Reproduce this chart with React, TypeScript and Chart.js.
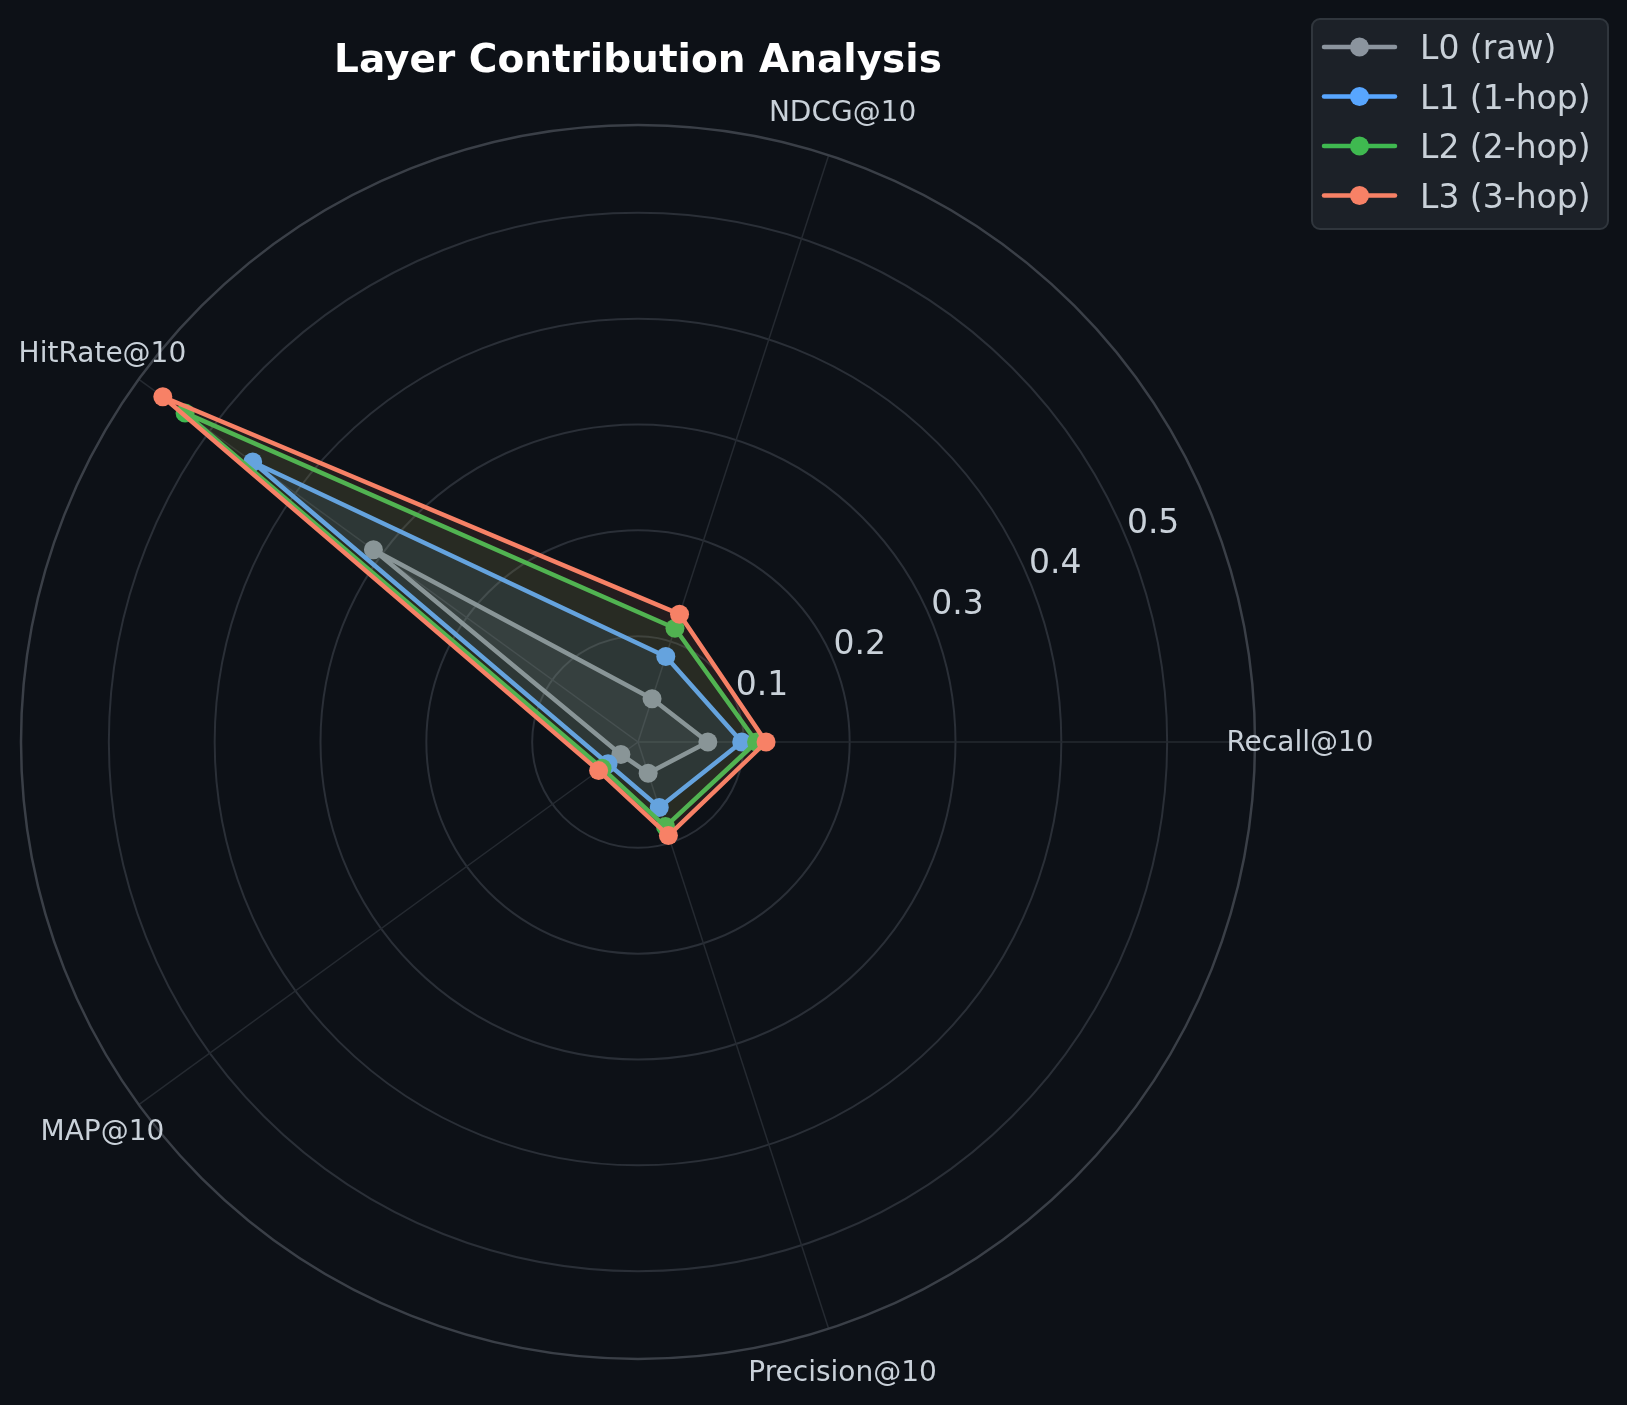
import { useEffect, useRef } from 'react';
import Chart from 'chart.js/auto';

// metrics in clockwise order starting at 3 o'clock (Chart.js draws clockwise)
const metrics = ['Recall@10', 'Precision@10', 'MAP@10', 'HitRate@10', 'NDCG@10'];
const layerNames = ['L0 (raw)', 'L1 (1-hop)', 'L2 (2-hop)', 'L3 (3-hop)'];
const layerColors = ['#8b949e', '#58a6ff', '#3fb950', '#f78166'];

// scores, same order as metrics
const l0Scores = [0.066, 0.031, 0.020, 0.309, 0.043];
const l1Scores = [0.098, 0.065, 0.035, 0.450, 0.085];
const l2Scores = [0.112, 0.084, 0.042, 0.529, 0.113];
const l3Scores = [0.121, 0.093, 0.046, 0.555, 0.127];

const radialTicks = [0.1, 0.2, 0.3, 0.4, 0.5];
const rMax = 0.583;

const BG = '#0d1117';
const TEXT = '#c9d1d9';
const FONT = '"DejaVu Sans", sans-serif';

const withAlpha = (hex: string, a: number) => {
  const n = parseInt(hex.slice(1), 16);
  return `rgba(${(n >> 16) & 255}, ${(n >> 8) & 255}, ${n & 255}, ${a})`;
};

const decorPlugin = {
  id: 'decor',
  beforeDraw(chart: any) {
    const ctx = chart.ctx;
    ctx.save();
    ctx.fillStyle = BG;
    ctx.fillRect(0, 0, chart.width, chart.height);
    ctx.restore();
  },
  beforeDatasetsDraw(chart: any) {
    const scale = chart.scales.r;
    const ctx = chart.ctx;
    ctx.save();
    ctx.strokeStyle = '#3a3f47';
    ctx.lineWidth = 2.5;
    ctx.beginPath();
    ctx.arc(scale.xCenter, scale.yCenter, scale.getDistanceFromCenterForValue(rMax), 0, Math.PI * 2);
    ctx.stroke();
    ctx.restore();
  },
  afterDraw(chart: any) {
    const scale = chart.scales.r;
    const ctx = chart.ctx;
    ctx.save();

    // radial tick labels at 22.5 degrees
    ctx.fillStyle = TEXT;
    ctx.font = `33px ${FONT}`;
    ctx.textAlign = 'left';
    ctx.textBaseline = 'alphabetic';
    const a = (22.5 * Math.PI) / 180;
    radialTicks.forEach((v) => {
      const d = scale.getDistanceFromCenterForValue(v);
      const x = scale.xCenter + d * Math.cos(a);
      const y = scale.yCenter - d * Math.sin(a);
      ctx.fillText(v.toFixed(1), x, y - 6.5);
    });

    // metric labels centred just outside the outer ring
    ctx.font = `28px ${FONT}`;
    ctx.textAlign = 'center';
    metrics.forEach((m, i) => {
      const p = scale.getPointPosition(i, scale.drawingArea + 45);
      ctx.fillText(m, p.x, p.y + 9);
    });

    // title
    ctx.fillStyle = '#ffffff';
    ctx.font = `bold 39px ${FONT}`;
    ctx.fillText('Layer Contribution Analysis', 638, 72);

    // legend
    const lx = 1312, ly = 19, lw = 296, lh = 210;
    ctx.fillStyle = '#1c2128';
    ctx.strokeStyle = '#30363d';
    ctx.lineWidth = 2;
    ctx.beginPath();
    ctx.roundRect(lx, ly, lw, lh, 8);
    ctx.fill();
    ctx.stroke();

    ctx.textAlign = 'left';
    ctx.font = `33px ${FONT}`;
    chart.data.datasets.forEach((ds: any, i: number) => {
      const y = 47 + i * 49.5;
      ctx.strokeStyle = ds.borderColor;
      ctx.lineWidth = 4.5;
      ctx.lineCap = 'round';
      ctx.beginPath();
      ctx.moveTo(1324, y);
      ctx.lineTo(1395, y);
      ctx.stroke();
      ctx.fillStyle = ds.borderColor;
      ctx.beginPath();
      ctx.arc(1359.5, y, 9.5, 0, Math.PI * 2);
      ctx.fill();
      ctx.fillStyle = TEXT;
      ctx.fillText(ds.label, 1420, y + 12);
    });

    ctx.restore();
  },
};

const App = () => {
  const canvasRef = useRef<HTMLCanvasElement | null>(null);
  const chartRef = useRef<Chart | null>(null);

  useEffect(() => {
    if (!canvasRef.current) return;
    if (chartRef.current) chartRef.current.destroy();

    const layerScores = [l0Scores, l1Scores, l2Scores, l3Scores];

    chartRef.current = new Chart(canvasRef.current, {
      type: 'radar',
      data: {
        labels: metrics,
        datasets: layerScores.map((scores, i) => ({
          label: layerNames[i],
          data: scores,
          borderColor: layerColors[i],
          backgroundColor: withAlpha(layerColors[i], 0.1),
          pointBackgroundColor: layerColors[i],
          pointBorderWidth: 0,
          pointRadius: 9.5,
          pointHoverRadius: 9.5,
          borderWidth: 4.5,
          borderJoinStyle: 'round' as const,
          fill: true,
          order: 3 - i, // later layers drawn on top
        })),
      },
      options: {
        responsive: false,
        animation: false,
        layout: { padding: { left: 21, top: 125, right: 372, bottom: 46 } },
        plugins: {
          legend: { display: false },
          title: { display: false },
          tooltip: { enabled: false },
        },
        scales: {
          r: {
            min: 0,
            max: rMax,
            startAngle: 90,
            afterBuildTicks: (s: any) => {
              s.ticks = [0, ...radialTicks].map((v) => ({ value: v }));
            },
            ticks: { display: false },
            pointLabels: { display: false },
            grid: { circular: true, color: '#2a2f37', lineWidth: 2 },
            angleLines: { color: '#252a31', lineWidth: 1.5 },
          },
        },
      },
      plugins: [decorPlugin],
    });

    return () => {
      if (chartRef.current) {
        chartRef.current.destroy();
        chartRef.current = null;
      }
    };
  }, []);

  return (
    <div style={{ position: 'absolute', left: 0, top: 0, width: 1627, height: 1405, background: BG }}>
      <canvas ref={canvasRef} width={1627} height={1405} style={{ width: 1627, height: 1405, display: 'block' }} />
    </div>
  );
};

export default App;
